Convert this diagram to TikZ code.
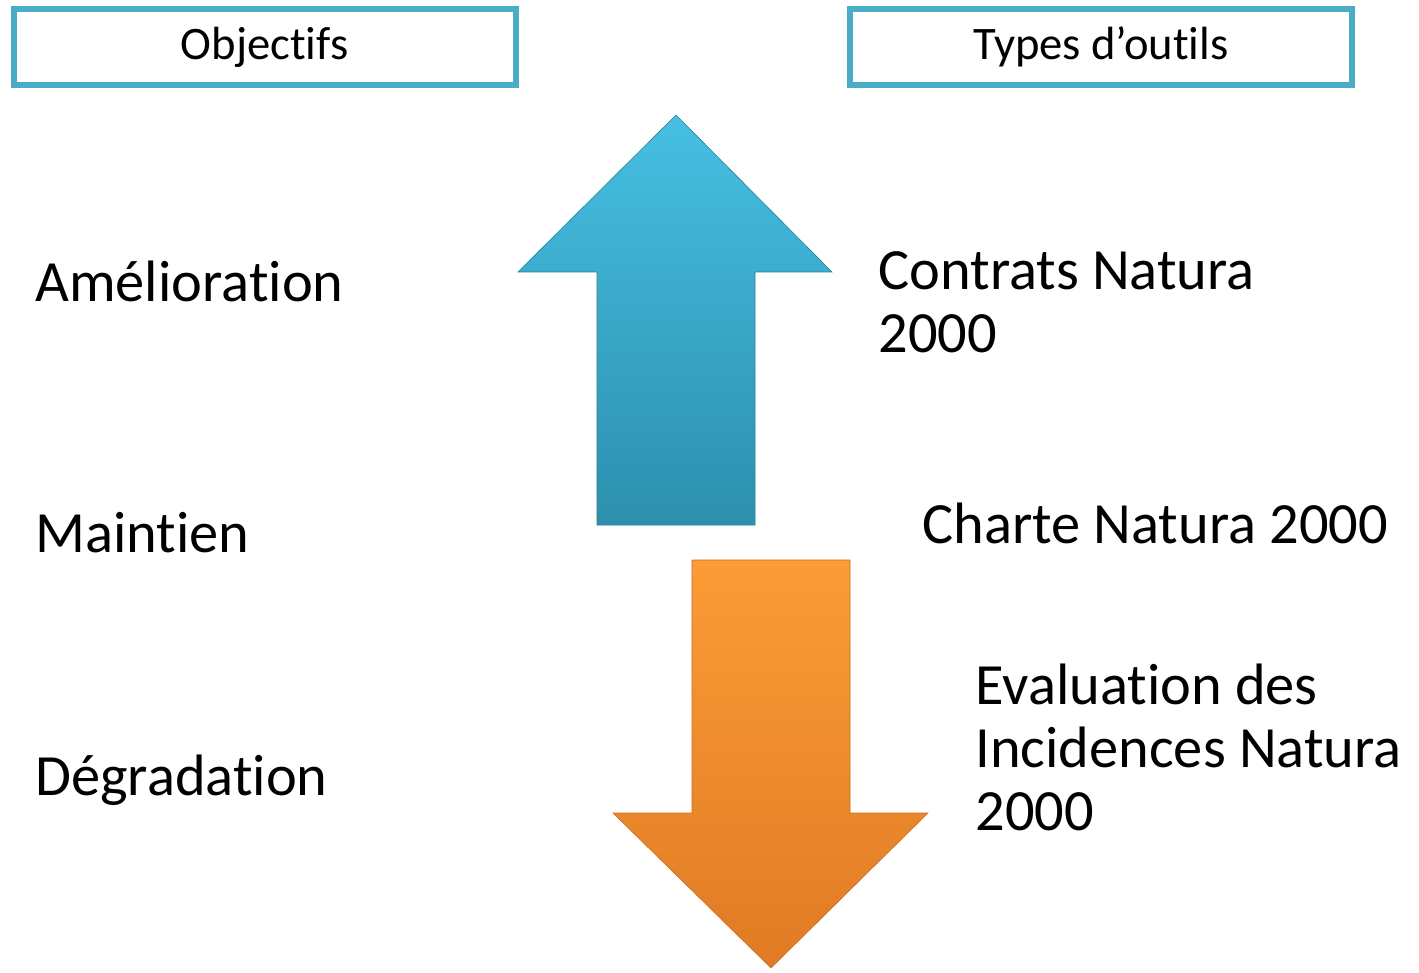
\documentclass[tikz,border=0pt]{standalone}
\usepackage{fontspec}
\setmainfont{Carlito}[Ligatures={NoCommon}]
\newcommand\zk{\kern0pt{}}
\begin{document}
\begin{tikzpicture}[x=0.5pt,y=-0.5pt,
  hdrbox/.style={draw=boxblue, line width=3pt, fill=white, minimum width=251pt, minimum height=38pt, inner sep=0pt, font=\fontsize{23.3}{26}\selectfont},
  bigtxt/.style={inner sep=0pt, anchor=base west, align=left, font=\fontsize{29.2}{31.5}\selectfont}]
\definecolor{boxblue}{HTML}{4BACC6}
\definecolor{uptop}{HTML}{46C0E2}
\definecolor{upbot}{HTML}{2D8FAE}
\definecolor{dntop}{HTML}{FB9C36}
\definecolor{dnbot}{HTML}{E07A24}
\useasboundingbox (0,0) rectangle (1419,973);
\fill[white] (0,0) rectangle (1419,973);
% headers
\node[hdrbox] (obj) at (265,47) {Objec\zk t\zk i\zk f\zk s};
\node[hdrbox] (typ) at (1101,47) {Types d’out\zk ils};
% up arrow
\shade[top color=uptop, bottom color=upbot, draw=upbot!90!black, line width=0.3pt]
  (676,115) -- (832,272) -- (755,272) -- (755,525) -- (597,525) -- (597,272) -- (518,272) -- cycle;
% down arrow
\shade[top color=dntop, bottom color=dnbot, draw=dnbot!90!black, line width=0.3pt]
  (692,560) -- (850,560) -- (850,813) -- (928,813) -- (771,968) -- (613,813) -- (692,813) -- cycle;
% left labels
\node[bigtxt] (am) at (35,302) {Améliorat\zk ion};
\node[bigtxt] (ma) at (35,552) {Maint\zk ien};
\node[bigtxt] (de) at (35,795) {Dégradat\zk ion};
% right labels (base anchor = last line)
\node[bigtxt] (co) at (878,352) {Contrats Natura\\2000};
\node[bigtxt] (ch) at (922,543) {Charte Natura 2000};
\node[bigtxt] (ev) at (975,830) {Evaluat\zk ion des\\Incidences Natura\\2000};
\end{tikzpicture}
\end{document}
